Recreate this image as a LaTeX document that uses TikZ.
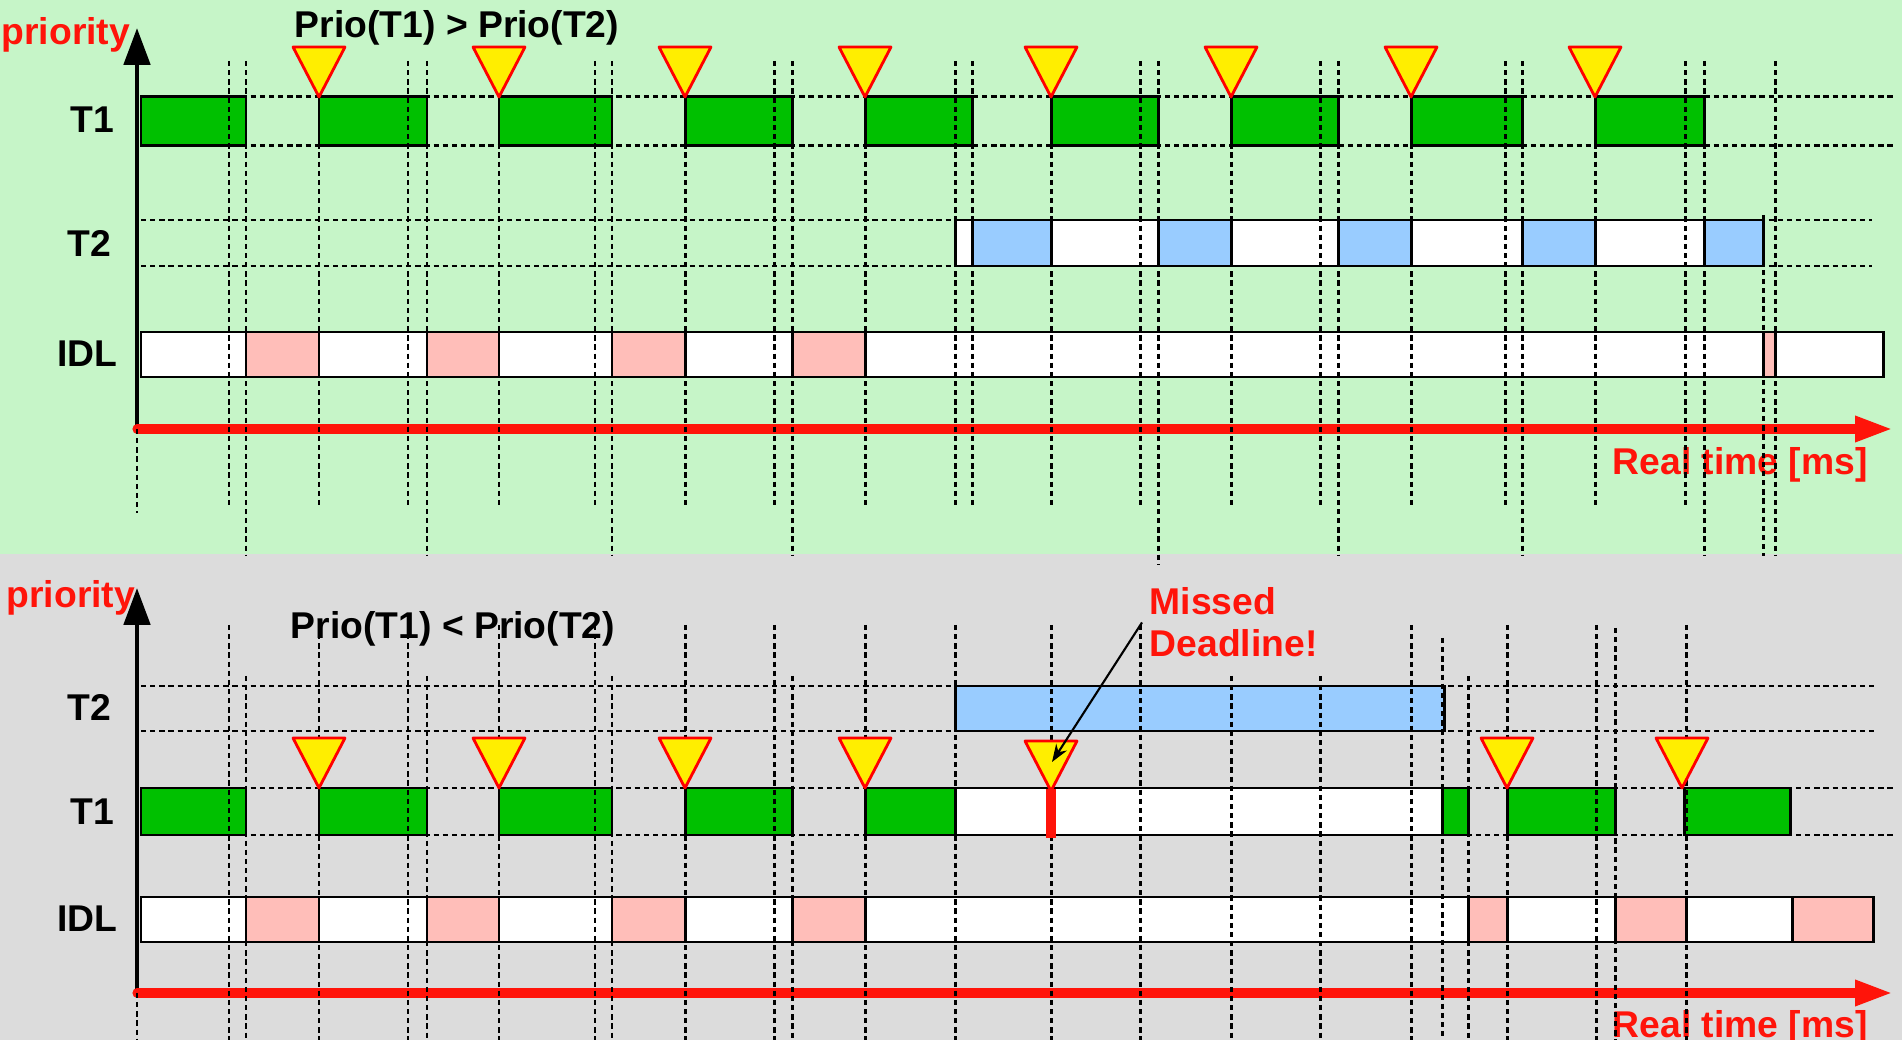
\documentclass[tikz,border=0pt]{standalone}
\usepackage{fontspec}
\setmainfont{Liberation Sans}
\usetikzlibrary{arrows.meta}
\definecolor{bgtop}{RGB}{198, 245, 200}
\definecolor{bglow}{RGB}{220, 220, 220}
\definecolor{runT1}{RGB}{0, 192, 0}
\definecolor{runT2}{RGB}{153, 204, 255}
\definecolor{runIDL}{RGB}{255, 190, 185}
\definecolor{axisred}{RGB}{255, 20, 10}
\definecolor{relyellow}{RGB}{255, 238, 0}

\begin{document}
\begin{tikzpicture}[x=0.01cm, y=-0.01cm,
    seg/.style={draw=black, line width=0.85pt},
    grid/.style={black, line width=0.85pt, dash pattern=on 1.5pt off 1.1pt},
    lbl/.style={font=\fontsize{10.6}{12}\selectfont\bfseries, inner sep=0pt},
    redlbl/.style={lbl, text=axisred},
    prioaxis/.style={line width=1.4pt, -{Triangle[length=10.5pt, width=7.4pt]}},
    timeaxis/.style={draw=axisred, line width=2.6pt, line cap=round, -{Triangle[length=10.8pt, width=6.8pt]}},
    release/.pic={\draw[draw=red, fill=relyellow, line width=0.8pt, line join=round] (0,0) -- (-26,-50) -- (26,-50) -- cycle;}]

    % Panels
    \useasboundingbox (0,0) rectangle (1902,1040);
    \clip (0,0) rectangle (1902,1040);
    \fill[bgtop] (0,0) rectangle (1902,554);
    \fill[bglow] (0,554) rectangle (1902,1040);

    % Labels (upper)
    \node[redlbl, anchor=west] (prio1) at (1,35) {priority};
    \node[lbl] (title1) at (457,28) {Prio(T1) > Prio(T2)};
    \node[lbl, anchor=east] (t1a) at (115,120) {T1};
    \node[lbl, anchor=east] (t2a) at (112,243) {T2};
    \node[lbl, anchor=east] (idla) at (118,354) {IDL};
    \node[redlbl, anchor=west] (time1) at (1612,465) {Real time [ms]};

    % Labels (lower)
    \node[redlbl, anchor=west] (prio2) at (6,598) {priority};
    \node[lbl] (title2) at (453,629) {Prio(T1) < Prio(T2)};
    \node[lbl, anchor=east] (t2b) at (112,707) {T2};
    \node[lbl, anchor=east] (t1b) at (115,812) {T1};
    \node[lbl, anchor=east] (idlb) at (118,919) {IDL};
    \node[redlbl, anchor=west] (time2) at (1612,1028) {Real time [ms]};

    % Rows
    \draw[grid] (141,97) -- (1895,97) (141,146) -- (1895,146);
    \draw[grid] (141,220) -- (1872,220) (141,266) -- (1872,266);
    \draw[grid] (141,686) -- (1874,686) (141,731) -- (1874,731);
    \draw[grid] (141,788) -- (1895,788) (141,835) -- (1895,835);

    % Upper schedule
    \draw[seg, fill=runT1] (141,97) rectangle (246,146) (319,97) rectangle (427,146)
        (499,97) rectangle (612,146) (685,97) rectangle (792,146) (865,97) rectangle (972,146)
        (1051,97) rectangle (1158,146) (1231,97) rectangle (1338,146)
        (1411,97) rectangle (1522,146) (1595,97) rectangle (1704,146);
    \draw[seg, fill=white] (955,220) rectangle (1763,266);
    \draw[seg, fill=runT2] (972,220) rectangle (1051,266) (1158,220) rectangle (1231,266)
        (1338,220) rectangle (1411,266) (1522,220) rectangle (1595,266) (1704,220) rectangle (1763,266);
    \draw[seg, fill=white] (141,332) rectangle (1883,377);
    \draw[seg, fill=runIDL] (246,332) rectangle (319,377) (427,332) rectangle (499,377)
        (612,332) rectangle (685,377) (792,332) rectangle (865,377) (1763,332) rectangle (1775,377);

    % Lower schedule
    \draw[seg, fill=runT2] (955,686) rectangle (1444,731);
    \draw[seg, fill=runT1] (141,788) rectangle (246,835) (319,788) rectangle (427,835)
        (499,788) rectangle (612,835) (685,788) rectangle (792,835) (865,788) rectangle (955,835)
        (1442,788) rectangle (1468,835) (1507,788) rectangle (1615,835) (1684,788) rectangle (1790,835);
    \draw[seg, fill=white] (955,788) rectangle (1442,835);
    \draw[seg, fill=white] (141,897) rectangle (1873,942);
    \draw[seg, fill=runIDL] (246,897) rectangle (319,942) (427,897) rectangle (499,942)
        (612,897) rectangle (685,942) (792,897) rectangle (865,942) (1468,897) rectangle (1507,942)
        (1615,897) rectangle (1686,942) (1792,897) rectangle (1873,942);

    % Axes
    \draw[prioaxis] (137,429) -- (137,28);
    \draw[timeaxis] (137,429) -- (1893,429);
    \draw[prioaxis] (137,993) -- (137,588);
    \draw[timeaxis] (137,993) -- (1893,993);

    % Time marks (upper)
    \draw[grid] (137,429) -- (137,513);
    \draw[grid] (229,61) -- (229,509) (319,61) -- (319,509) (408,61) -- (408,509)
        (499,61) -- (499,509) (595,61) -- (595,509) (685,61) -- (685,509)
        (774,61) -- (774,509) (865,61) -- (865,509) (955,61) -- (955,509)
        (972,61) -- (972,509) (1051,61) -- (1051,509) (1140,61) -- (1140,509)
        (1231,61) -- (1231,509) (1320,61) -- (1320,509) (1411,61) -- (1411,509)
        (1505,61) -- (1505,509) (1595,61) -- (1595,509) (1685,61) -- (1685,509);
    \draw[grid] (246,61) -- (246,556) (427,61) -- (427,556) (612,61) -- (612,556)
        (792,61) -- (792,556) (1158,61) -- (1158,564) (1338,61) -- (1338,556)
        (1522,61) -- (1522,556) (1704,61) -- (1704,556) (1763,215) -- (1763,556)
        (1775,61) -- (1775,556);

    % Time marks (lower)
    \draw[grid] (137,993) -- (137,1040);
    \draw[grid] (229,625) -- (229,1040) (319,625) -- (319,1040) (408,625) -- (408,1040)
        (499,625) -- (499,1040) (595,625) -- (595,1040) (685,625) -- (685,1040)
        (774,625) -- (774,1040) (865,625) -- (865,1040) (955,625) -- (955,1040)
        (1051,625) -- (1051,1040) (1140,625) -- (1140,1040) (1411,625) -- (1411,1040)
        (1507,625) -- (1507,1040) (1596,625) -- (1596,1040) (1686,625) -- (1686,1040);
    \draw[grid] (246,676) -- (246,1040) (427,676) -- (427,1040) (612,676) -- (612,1040)
        (792,676) -- (792,1040) (1231,676) -- (1231,1040) (1320,676) -- (1320,1040)
        (1468,676) -- (1468,1040) (1442,638) -- (1442,1040) (1615,628) -- (1615,1040);

    % Releases of T1
    \path (319,97) pic {release} (499,97) pic {release} (685,97) pic {release}
        (865,97) pic {release} (1051,97) pic {release} (1231,97) pic {release}
        (1411,97) pic {release} (1595,97) pic {release};
    \path (319,788) pic {release} (499,788) pic {release} (685,788) pic {release}
        (865,788) pic {release} (1507,788) pic {release} (1682,788) pic {release};

    % Missed deadline
    \path (1051,791) pic {release};
    \coordinate (miss) at (1052,762);
    \draw[axisred, line width=2.6pt] (1051,789) -- (1051,838);
    \node[redlbl, anchor=north west, align=left, inner xsep=2pt] (missed) at (1142,587) {Missed\\Deadline!};
    \draw[line width=0.6pt, -{Stealth[length=5pt, width=3.6pt]}] (missed.west) -- (miss);
\end{tikzpicture}
\end{document}
